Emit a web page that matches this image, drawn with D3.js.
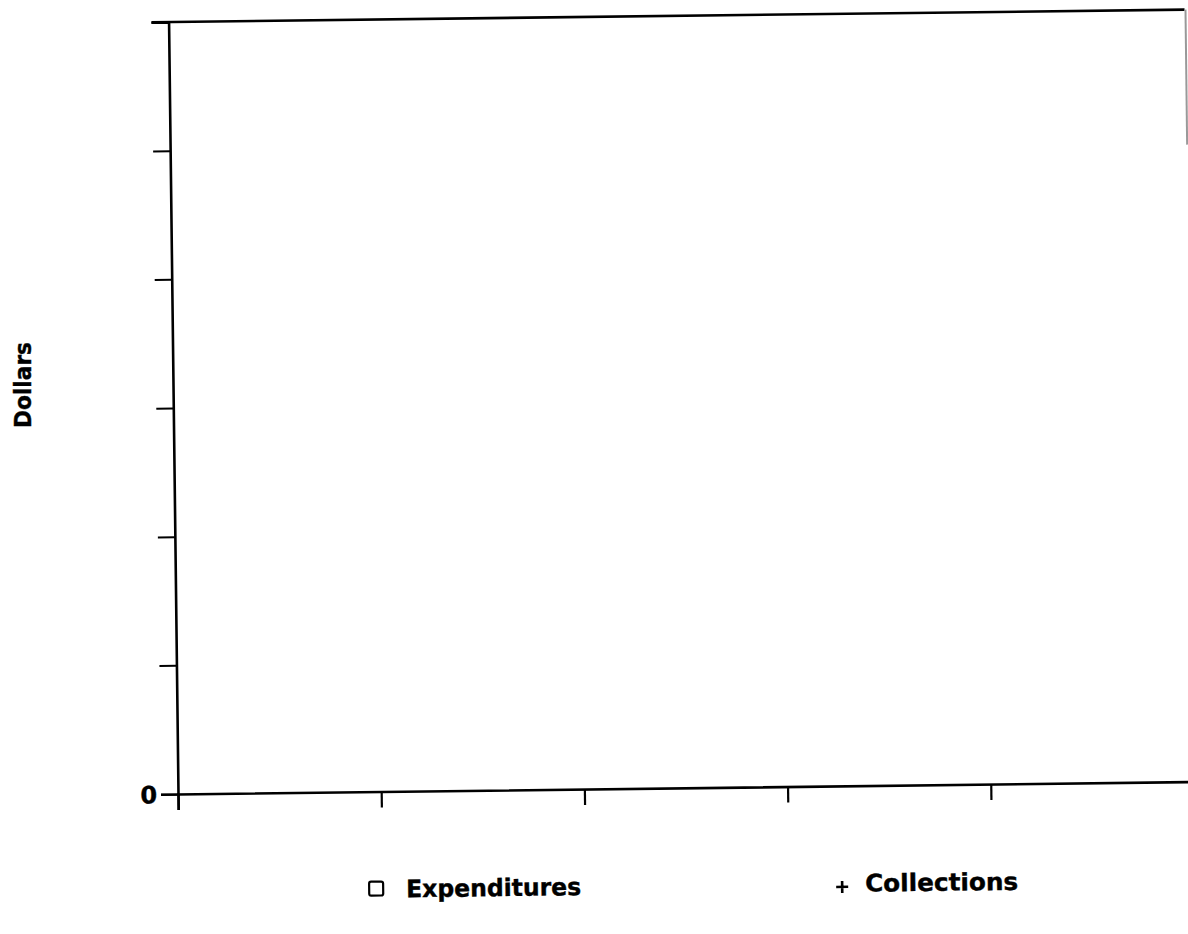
<!DOCTYPE html>
<html>
<head>
<meta charset="utf-8">
<script src="https://cdn.jsdelivr.net/npm/d3@7"></script>
<style>
  html, body { margin: 0; padding: 0; background: #fff; }
  svg { display: block; }
  text { font-family: "DejaVu Sans", sans-serif; font-weight: bold; fill: #000; stroke: #000; stroke-width: 0.4px; }
</style>
</head>
<body>
<svg id="chart" width="1188" height="934"></svg>
<script>
// ---- data (the reference chart plots no visible points) ----
const xTickValues = [0, 1, 2, 3, 4];
const xTickLabels = ["", "", "", "", ""];
const yTickValues = [0, 1, 2, 3, 4, 5, 6];
const yTickLabels = ["0", "", "", "", "", "", ""];
const seriesNames = ["Expenditures", "Collections"];
const expenditures = [];
const collections = [];
const yAxisTitle = "Dollars";

// ---- layout ----
const svg = d3.select("#chart");
const ox = 178, oy = 794;          // plot origin
const plotW = 1016, plotH = 772;
const tilt = -0.7;                 // scanned page is slightly rotated

const x = d3.scaleLinear().domain([0, 5]).range([ox, ox + plotW]);
const y = d3.scaleLinear().domain([0, 6]).range([oy, oy - plotH]);

const g = svg.append("g").attr("transform", `rotate(${tilt}, ${ox}, ${oy})`);

// y axis
const yAxis = d3.axisLeft(y)
  .tickValues(yTickValues)
  .tickSize(17)
  .tickPadding(6)
  .tickFormat((d, i) => yTickLabels[i]);
const ya = g.append("g").attr("transform", `translate(${ox},0)`).call(yAxis);
ya.select(".domain").attr("stroke", "#000").attr("stroke-width", 2.6);
ya.selectAll(".tick line").attr("stroke", "#000").attr("stroke-width", 2);
ya.selectAll(".tick text").style("font-size", "24px").attr("dy", "0.36em").attr("x", -21);

// x axis
const xAxis = d3.axisBottom(x)
  .tickValues(xTickValues)
  .tickSize(16)
  .tickFormat((d, i) => xTickLabels[i]);
const xa = g.append("g").attr("transform", `translate(0,${oy})`).call(xAxis);
xa.select(".domain").attr("stroke", "#000").attr("stroke-width", 2.6);
xa.selectAll(".tick line").attr("stroke", "#000").attr("stroke-width", 2.2);

// top frame line (extends left past the axis like the top tick)
g.append("line")
  .attr("x1", ox - 17).attr("x2", x(5))
  .attr("y1", y(6)).attr("y2", y(6))
  .attr("stroke", "#000").attr("stroke-width", 2.6);

// faint right frame edge
g.append("line")
  .attr("x1", x(5) + 1).attr("x2", x(5) + 1)
  .attr("y1", y(6)).attr("y2", y(6) + 135)
  .attr("stroke", "#999").attr("stroke-width", 2);

// series (none visible in the reference)
const line = d3.line().x(d => x(d[0])).y(d => y(d[1]));
g.append("path").datum(expenditures).attr("d", line).attr("fill", "none").attr("stroke", "#000");
g.append("path").datum(collections).attr("d", line).attr("fill", "none").attr("stroke", "#000");
g.selectAll(".exp").data(expenditures).join("rect")
  .attr("x", d => x(d[0]) - 6).attr("y", d => y(d[1]) - 6).attr("width", 12).attr("height", 12)
  .attr("fill", "none").attr("stroke", "#000");
g.selectAll(".col").data(collections).join("path")
  .attr("d", d => `M${x(d[0]) - 5},${y(d[1])}h10M${x(d[0])},${y(d[1]) - 5}v10`)
  .attr("stroke", "#000");

// y axis title
svg.append("text")
  .attr("transform", "translate(31,385) rotate(-90)")
  .attr("text-anchor", "middle")
  .style("font-size", "23px")
  .attr("textLength", 86).attr("lengthAdjust", "spacingAndGlyphs")
  .text(yAxisTitle);

// legend
const lg = g.append("g");
lg.append("rect")
  .attr("x", 368).attr("y", 884).attr("width", 14).attr("height", 14)
  .attr("rx", 2)
  .attr("fill", "none").attr("stroke", "#000").attr("stroke-width", 2.2);
lg.append("text")
  .attr("x", 405).attr("y", 900)
  .style("font-size", "24px")
  .attr("textLength", 175).attr("lengthAdjust", "spacingAndGlyphs")
  .text(seriesNames[0]);
lg.append("path")
  .attr("d", "M835,895h12M841,889v12")
  .attr("stroke", "#000").attr("stroke-width", 2.6);
lg.append("text")
  .attr("x", 864).attr("y", 900)
  .style("font-size", "24px")
  .attr("textLength", 153).attr("lengthAdjust", "spacingAndGlyphs")
  .text(seriesNames[1]);
</script>
</body>
</html>
